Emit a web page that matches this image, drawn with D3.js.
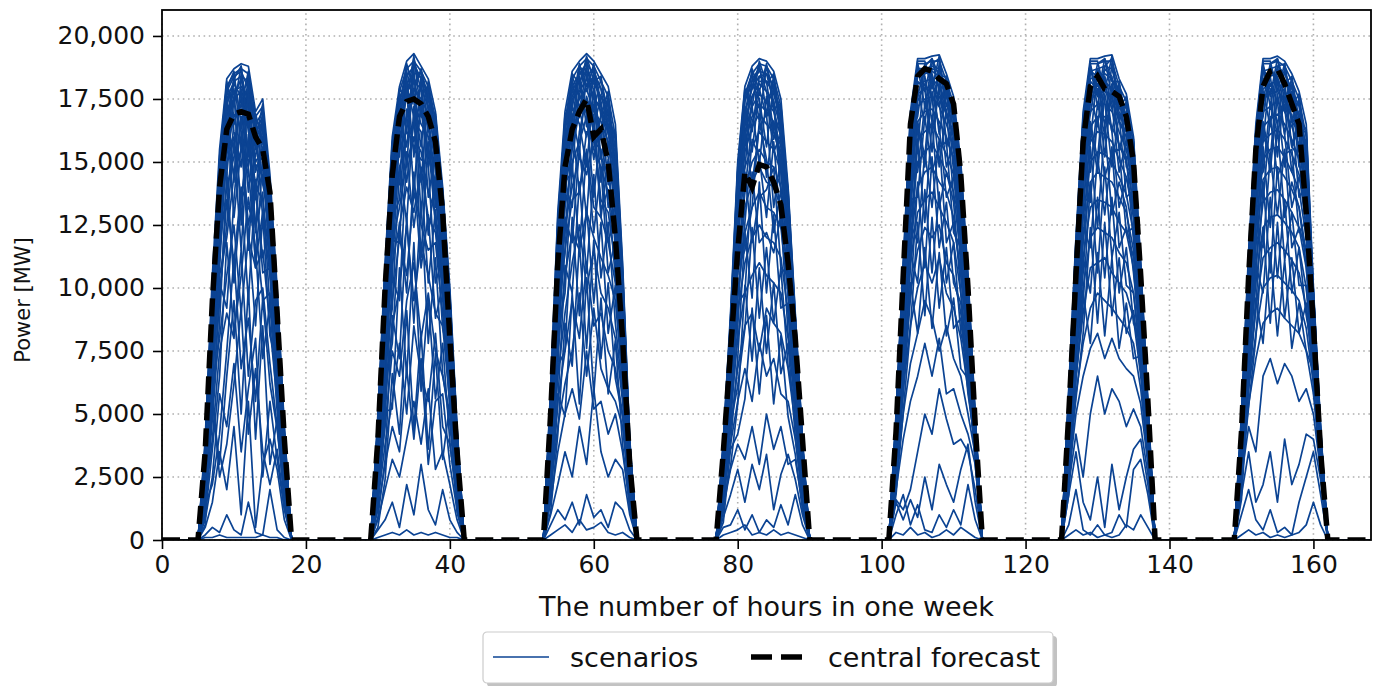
<!DOCTYPE html>
<html>
<head>
<meta charset="utf-8">
<script src="https://cdn.jsdelivr.net/npm/d3@7"></script>
<style>
  body { margin: 0; background: #fff; }
  text { font-family: "DejaVu Sans", sans-serif; fill: #111; }
</style>
</head>
<body>
<svg id="chart" width="1378" height="686"></svg>
<script>
// hour of the week where each day's solar output starts (value 0 there)
var dayStart = [5, 29, 53, 77, 101, 125, 149];

// central forecast, thousand MW, hourly from dayStart[d]
var centralDay1 = [0,3.5,9.5,14,16.3,16.9,17,16.9,16,15.5,13.8,9,4,0];
var centralDay2 = [0,4,10,14.5,16.8,17.4,17.5,17.3,16.8,15.8,13,8,3.5,0];
var centralDay3 = [0,5,11,14.8,16.3,17,17.5,16,16.3,15,12,8,3,0];
var centralDay4 = [0,3.5,7.5,11.5,14.6,14,14.9,14.8,14.2,13.3,11,8,4,0];
var centralDay5 = [0,4.3,10.5,16.5,18.4,18.7,18.6,18.3,18.1,17.3,14.5,10,4.6,0];
var centralDay6 = [0,5,10.5,15.8,18,18.4,17.9,17.8,17.6,16.8,15,10.5,5.5,0];
var centralDay7 = [0,4.3,10.5,15.5,18,18.6,18.7,18.1,17.3,16.5,13,8.5,3.5,0];

// scenarios, thousand MW; row k of each day belongs to scenario k
var scenDay1 = [
  [0,4,10.5,15.5,18.3,18.7,18.9,18.8,17,17.5,14.5,10,4.5,0],
  [0,3.8,10,15,18,18.5,18.7,18.5,16.8,17.2,14,9.5,4.2,0],
  [0,3.5,9.8,14.8,17.5,18.2,18.4,18.2,16.5,17,13.5,9,4,0],
  [0,3.6,9.5,14.5,17.8,18.4,18.6,17.9,16.2,16.8,13.8,9.2,4.1,0],
  [0,3.2,9,14,17,17.8,18,17.5,16,16.5,13.2,8.8,3.8,0],
  [0,3,8.8,13.5,16.5,17.5,17.8,17.2,15.5,16,12.8,8.5,3.6,0],
  [0,3.4,9.2,14.2,17.2,16.5,17.5,16.8,15,15.5,13,8.6,3.5,0],
  [0,2.8,8,12.5,15.5,16.8,17,16.5,14.8,15.2,12.5,8,3.3,0],
  [0,3,8.5,13,16,14.5,16.8,15.5,14.2,14.8,12,7.5,3,0],
  [0,2.5,7.5,12,15,16,13.5,15.8,13.8,14.5,11.5,7.8,3.2,0],
  [0,2.6,7,11.5,14,15.2,16,12.5,14,13.5,11,7,2.8,0],
  [0,2.2,6.5,10.5,12,14.5,15.5,14.8,11,13,10.5,6.5,2.5,0],
  [0,1.8,5.5,9.5,13.5,11,14,13.2,12.5,9.5,9.8,6,2.4,0],
  [0,2,6,8,10.5,12.5,9,12,10.8,11.5,8.5,5.5,2,0],
  [0,1.5,4,7.5,9,8,11.5,6.5,9.5,10,7,4.5,1.8,0],
  [0,1,5.5,3,6.5,9.5,5,10,4,8.5,3,4.8,1.5,0],
  [0,0.8,2.5,5.8,4.5,7,3.5,6,8,2.5,5.5,3.2,1.2,0],
  [0,0.5,1.5,3.5,2,4.5,1,5.5,0.5,3,4,2.8,0.8,0],
  [0,0.2,0.5,0.3,1,0.4,0.2,1.5,0.3,0.2,2,0.4,0.1,0],
  [0,0.1,0.1,0.2,0.1,0.1,0.1,0.1,0.1,0.2,0.1,0.1,0,0],
  [0,3.7,9.8,15.2,18.1,17.2,18.8,16.5,16.9,15.8,14.2,9.8,4.4,0],
  [0,3.3,9.2,13.8,17.9,18.6,15.5,18.5,15.8,17.3,12.5,9.6,4.3,0],
  [0,2.9,8.6,15.1,16.2,18.3,18.8,14.8,16.7,16.2,14.1,8.2,3.9,0],
  [0,3.5,10.2,12.8,18.2,16.8,17.2,18.6,13.5,17.1,13.6,9.3,4,0],
  [0,3.1,9.6,14.9,15.2,18.5,16.5,17.8,16.8,14.2,13.9,9.1,3.7,0],
  [0,2.7,7.8,13.2,17.6,14.2,18.5,16.2,15.2,16.9,11.8,8.9,3.6,0],
  [0,3.6,8.2,14.6,16.8,17.9,12.5,18.2,16.4,15.8,14.3,7.6,4.2,0],
  [0,2.4,9.4,11.5,17.3,18.1,17.6,13.8,16.6,16.4,12.2,9.4,3.4,0],
  [0,3.2,7.2,14.2,14.5,17.6,18.3,17.4,12.2,16.6,13.5,8.4,3.8,0],
  [0,2.1,8.9,12.2,16.4,15.5,17.9,15.2,16.3,12.8,13.7,9,3.2,0],
  [0,2.9,6.8,13.6,18,16.2,14.8,17.7,14.6,15.6,10.5,8.7,3.5,0],
  [0,1.8,7.5,10.8,15.8,17.4,16.2,11.5,15.9,14.1,12.8,6.8,3,0],
  [0,2.5,8.1,12.6,13.2,16.6,17.3,16.9,10.8,15.2,11.6,8.1,2.9,0],
  [0,1.6,6.2,11.2,16.9,12.8,15.6,14.5,13.8,11.2,12.4,7.2,2.7,0],
  [0,2.3,5.2,9.8,12.5,15.8,11.5,16.1,12.4,13.8,9.2,7.6,2.6,0],
  [0,1.2,4.8,8.6,14.6,10.2,13.8,9.5,14.2,10.6,10.8,5.6,2.3,0],
  [0,1.9,6.6,10.2,9.2,13.5,16.8,12.2,8.5,12.9,8.1,6.9,2.1,0],
  [0,0.9,3.6,6.5,11.8,8.2,10.5,13.6,11.6,7.2,9.4,5.1,1.9,0],
  [0,1.4,2.2,4.2,7.5,11.2,6.8,8.8,5.5,9.6,6.2,4.4,1.7,0],
  [0,0.6,5.8,2.5,3.8,6.2,9.2,4.2,6.8,3.5,2.2,3.6,1.3,0]
];
var scenDay2 = [
  [0,5,11,16,18,19,19.3,18.8,18.3,17,14,10,4.5,0],
  [0,4.8,10.6,15.6,17.8,18.7,19,18.6,18,16.7,13.6,9.6,4.3,0],
  [0,4.5,10.2,15.2,17.5,18.4,18.8,18.3,17.8,16.4,13.2,9.2,4,0],
  [0,4.6,10.4,15,17.2,18.1,18.5,18.5,17.5,16.2,13.4,9.4,4.1,0],
  [0,4.2,9.8,14.6,17,17.8,18.2,17.9,17.2,16,12.8,8.8,3.8,0],
  [0,4,9.5,14.2,16.6,17.5,17.9,17.5,16.9,15.6,12.5,8.5,3.6,0],
  [0,4.4,9.9,14.8,16.2,18,16.8,17.2,16.4,15.2,12.2,8.2,3.4,0],
  [0,3.8,9,13.5,16,16.8,17.5,16.5,16,14.8,12,8,3.5,0],
  [0,3.5,8.6,13,15.5,16.2,15.8,17,15.2,14.2,11.5,7.6,3.2,0],
  [0,3.6,8.2,12.4,14.8,15.8,16.5,14.5,15.5,13.6,11,7.2,3,0],
  [0,3.2,7.6,11.8,13.2,15,16,15.4,13.8,13,10.5,7,2.8,0],
  [0,3,7,11,12.5,14,13,14.8,12.8,12.2,10,6.6,2.6,0],
  [0,2.6,6.5,9.5,12,10.5,13.8,12.5,11.5,11.8,9,6,2.4,0],
  [0,2.2,5.5,8.5,10,12.5,9.5,11.8,10.5,9,8.5,5.4,2.2,0],
  [0,2,4.5,7.5,6.5,9.5,11,8,9.8,7.5,6.5,5,2,0],
  [0,1.5,3.8,5.5,7.8,5,8.5,6.5,5.5,8.2,4.5,3.8,1.6,0],
  [0,1.2,3,4.5,3.5,6.8,4,7.2,3,5.5,5.8,3,1.2,0],
  [0,0.8,2,3.2,2.5,4,5.5,3.8,6,2.8,3.5,2.2,0.8,0],
  [0,0.4,0.8,1.5,0.5,2.2,1,3,1.2,0.6,2,0.8,0.3,0],
  [0,0.1,0.2,0.3,0.2,0.4,0.2,0.3,0.2,0.3,0.2,0.1,0.1,0],
  [0,4.7,10.8,15.8,17.2,18.9,17.8,18.7,17.5,16.8,13.8,9.8,4.4,0],
  [0,4.3,10.1,14.4,17.9,17.5,19.2,16.9,18.2,15.5,13.9,9.1,4.2,0],
  [0,3.9,9.3,15.7,16.4,18.8,18.1,18.6,16.2,16.9,12.4,9.7,3.9,0],
  [0,4.6,10.7,13.2,17.7,16.2,19.1,17.8,17.9,14.6,13.7,8.6,4.3,0],
  [0,3.4,8.8,15.4,15.2,18.6,17.4,15.6,18.1,16.6,11.8,9.5,3.7,0],
  [0,4.1,9.9,14.9,17.6,14.8,18.9,18.3,14.8,16.3,13.5,8.1,4,0],
  [0,3.7,7.6,13.8,16.9,18.4,15.2,18.4,17.2,13.2,13.1,9.2,3.6,0],
  [0,2.9,9.6,12.1,17.4,17.7,18.7,14.2,17.7,15.9,10.8,8.9,3.3,0],
  [0,3.3,8.4,14.7,14.1,18.2,17.6,17.9,13.6,15.4,12.9,7.4,3.5,0],
  [0,2.6,7.1,11.6,16.7,15.6,18.4,16.8,16.6,12.4,12.6,8.4,3.1,0],
  [0,3.6,9.2,13.5,15.8,17.9,13.8,17.5,15.4,14.9,9.8,7.9,3.4,0],
  [0,2.3,6.4,12.8,13.5,16.9,17.8,12.9,16.8,13.8,11.9,6.5,2.9,0],
  [0,3,8,10.5,16.2,14.2,16.6,16.2,12.1,14.4,10.6,7.5,2.7,0],
  [0,1.9,5.6,11.9,11.8,17.1,15.5,15.1,14.9,10.2,11.2,6.8,2.5,0],
  [0,2.7,7.4,9.2,14.8,12.6,17.2,11.2,15.8,12.6,8.4,7.1,2.3,0],
  [0,1.4,4.8,10.4,9.5,15.4,12.4,14.6,10.2,13.1,9.6,5.2,2.1,0],
  [0,2.1,6.2,7.8,12.6,9.8,14.6,10.8,12.9,8.8,10.1,6.3,1.9,0],
  [0,0.9,3.2,8.9,7.2,12.8,8.6,13.4,7.8,11.2,6.6,4.6,1.6,0],
  [0,1.6,5.1,5.2,10.8,6.5,11.8,5.9,9.6,5.6,7.8,3.9,1.4,0],
  [0,0.5,2.4,6.6,4.2,9.1,4.4,8.2,3.6,7.4,3.2,5.4,1.1,0]
];
var scenDay3 = [
  [0,6,13,17,18.6,19,19.3,19,18.5,18,16.5,11,4,0],
  [0,5.7,12.6,16.6,18.3,18.8,19.1,18.8,18.2,17.6,16,10.6,3.8,0],
  [0,5.5,12.2,16.2,18,18.5,18.9,18.5,17.9,17.2,15.5,10.2,3.6,0],
  [0,5.3,11.8,15.8,17.6,18.2,18.6,18.1,17.6,16.8,15,9.8,3.5,0],
  [0,5.6,12,16,17.2,18.6,18,18.4,17.2,16.5,14.6,9.5,3.4,0],
  [0,5,11.4,15.4,17.5,17.8,18.3,17.6,17,16.2,14.2,9.2,3.3,0],
  [0,4.8,11,15,16.8,17.5,17.9,17,16.6,15.8,13.8,8.8,3.1,0],
  [0,4.5,10.5,14.5,16.2,16.8,17.4,16.2,16,15.2,13.2,8.5,3,0],
  [0,4.6,10,14,15.5,17,16,17.2,15.2,14.5,12.5,8,2.8,0],
  [0,4.2,9.5,13.2,15,15.8,16.8,15.5,14.8,13.8,12,7.6,2.7,0],
  [0,4,9,12.5,14,15.2,14.5,16,13.5,13,11,7.2,2.5,0],
  [0,3.6,8.4,11.5,13.5,13.8,15.5,13.2,12.8,11.8,10.2,6.8,2.4,0],
  [0,3.2,7.5,10.5,12.2,11.5,13,12,11.2,10.5,9.5,6.2,2.2,0],
  [0,2.8,6.5,9,11,12.5,10,11.5,9.8,9.2,8,5.5,2,0],
  [0,2.4,5.5,7.5,9.5,8,11,8.5,9,7.5,6.8,5,1.8,0],
  [0,2,4.5,6.2,7.5,9.8,6.5,9.2,6.8,6,5.5,4.5,1.6,0],
  [0,1.5,3.5,5,6,4.8,7.5,5.2,5.5,4.2,5,3.5,1.4,0],
  [0,1,2.2,3.5,2.5,4.5,3,6,3.5,2.5,3.2,2.8,1,0],
  [0,0.6,1.2,0.8,1.5,0.6,1.8,0.9,1.2,0.5,1.5,1.2,0.4,0],
  [0,0.2,0.4,0.6,0.3,0.8,0.4,0.5,0.7,0.3,0.2,0.3,0.1,0],
  [0,5.8,12.8,16.5,18.4,17.6,19.2,18.2,18.4,16.4,16.2,10.8,3.9,0],
  [0,5.2,11.9,16.9,17.2,18.9,17.8,18.9,16.8,17.8,14.8,10.4,3.7,0],
  [0,4.9,12.4,15.2,18.5,18.1,19.1,17.1,18.3,16.9,15.9,9.6,3.8,0],
  [0,5.5,10.8,16.7,16.5,18.8,18.4,18.7,17.4,15.6,16.1,10.1,3.5,0],
  [0,4.4,12.1,14.6,18.2,16.8,18.9,17.8,15.9,17.6,13.9,10.6,3.6,0],
  [0,5.1,11.2,16.3,17.8,18.4,16.4,18.6,17.9,16.1,15.4,9.1,3.4,0],
  [0,3.9,10.1,15.8,15.8,18.7,18.7,16.4,17.6,17.2,14.4,9.9,3.2,0],
  [0,4.7,11.6,13.9,17.9,17.2,18.1,18.3,15.1,16.8,15.6,8.6,3.3,0],
  [0,3.6,9.8,15.5,16.9,15.4,18.5,17.5,17.2,14.1,14.9,9.4,3,0],
  [0,4.3,10.9,14.2,14.6,18.1,17.2,15.1,16.9,16.4,12.8,8.9,3.1,0],
  [0,3.2,8.6,13.4,17.2,16.5,14.8,17.9,14.2,15.8,13.6,7.8,2.9,0],
  [0,4,10.2,12.2,15.6,17.7,16.9,13.6,16.4,13.2,14.2,8.2,2.8,0],
  [0,2.8,7.9,14.1,13.2,16.2,17.6,16.6,12.8,15.1,11.6,7.4,2.6,0],
  [0,3.4,9.1,11.4,16.4,13.8,16.2,15.8,15.5,11.8,12.9,8,2.5,0],
  [0,2.2,6.8,12.8,11.8,15.6,12.8,16.9,13.1,13.9,10.4,6.6,2.3,0],
  [0,2.9,8.2,9.8,14.9,11.6,15.4,12.2,14.8,10.6,11.9,7.1,2.2,0],
  [0,1.6,5.4,10.9,9.8,14.2,10.6,14.5,10.4,12.6,8.6,5.8,1.9,0],
  [0,2.4,6.9,7.5,12.8,8.9,13.2,9.4,12.6,8.2,10.1,6.2,1.7,0],
  [0,1.1,4.2,8.6,6.9,11.8,7.6,11.9,7.2,10.2,6.4,4.9,1.5,0],
  [0,1.8,5.8,4.9,9.8,5.4,10.4,5.8,9.6,5.8,7.9,3.8,1.2,0]
];
var scenDay4 = [
  [0,4,9,15,18,18.8,19.1,19,18.6,17.5,14,9,4,0],
  [0,3.8,8.7,14.6,17.7,18.5,18.9,18.8,18.3,17.2,13.7,8.8,3.9,0],
  [0,3.7,8.5,14.2,17.4,18.2,18.6,18.5,18,16.9,13.4,8.6,3.8,0],
  [0,3.6,8.3,13.8,17,17.9,18.4,18.2,17.7,16.6,13.1,8.4,3.7,0],
  [0,3.5,8.1,13.5,16.6,17.6,18.1,17.8,17.4,16.3,12.8,8.2,3.6,0],
  [0,3.4,7.9,13.2,16.2,17.2,17.7,17.4,17,16,12.5,8,3.5,0],
  [0,3.3,7.6,12.8,15.8,16.8,17.3,17,16.6,15.6,12.2,7.8,3.4,0],
  [0,3.2,7.4,12.4,15.4,16.4,16.9,16.5,16.2,15.2,11.9,7.6,3.3,0],
  [0,3,7,11.8,14.8,15.6,16.2,15.8,15.5,14.6,11.5,7.3,3.2,0],
  [0,2.9,6.8,11.2,14,15,15.5,15,14.8,14,11,7,3,0],
  [0,2.7,6.4,10.5,13.2,14.2,14.8,14.2,14,13.2,10.4,6.7,2.9,0],
  [0,2.5,6,9.8,12.2,13.2,13.8,13.2,13,12.4,9.8,6.3,2.7,0],
  [0,2.3,5.5,9,11,12,12.5,12,11.8,11.2,9,5.8,2.5,0],
  [0,2,5,8,9.8,10.5,11,10.5,10.2,9.8,8,5.2,2.2,0],
  [0,1.8,4.4,6.8,8.5,9,7.5,9.2,8.6,8.2,6.8,4.6,2,0],
  [0,1.6,3.8,5.5,6.8,5.5,7.8,6.5,7.2,5.8,5.5,4,1.8,0],
  [0,1.3,2.8,3.8,3.2,4.5,3,5,3.6,4.5,3,3.2,1.4,0],
  [0,0.9,1.8,2.8,1.5,3,2,3.4,1.2,2.6,3.4,2.4,1,0],
  [0,0.5,0.6,1.2,0.4,1,0.3,0.8,0.5,1.4,0.6,1.8,0.6,0],
  [0,0.2,0.3,0.4,0.6,0.2,0.3,0.2,0.4,0.2,0.3,0.2,0.1,0],
  [0,3.9,8.8,14.8,17.9,17.2,19,18.1,18.5,16.4,13.9,8.9,3.9,0],
  [0,3.5,8.4,13.9,16.8,18.7,17.8,18.9,17.1,17.3,12.9,8.7,3.8,0],
  [0,3.7,7.8,14.6,17.7,17.9,18.9,16.9,18.4,15.8,13.8,8.1,3.7,0],
  [0,3.1,8.6,12.8,17.5,18.5,16.6,18.8,17.8,17.1,12.2,8.5,3.5,0],
  [0,3.6,7.2,14.4,15.8,18.3,18.7,17.8,15.9,16.9,13.6,7.6,3.6,0],
  [0,2.8,8.2,13.4,17.2,16.2,18.4,18.5,17.4,14.8,13.2,8.3,3.3,0],
  [0,3.3,6.9,12.2,16.4,18.1,17.5,15.6,18.1,16.5,11.5,7.9,3.4,0],
  [0,2.6,7.7,13.9,14.8,17.6,18.2,18.2,16.2,15.4,12.9,7.2,3.1,0],
  [0,3,6.4,11.6,17,15.4,17.9,16.8,17.3,13.8,12.6,7.7,3,0],
  [0,2.4,7.3,12.9,15.6,17.2,14.9,17.6,15.4,16.1,10.8,6.9,2.8,0],
  [0,2.8,5.9,10.8,13.8,16.6,17.3,14.4,16.6,14.6,12.1,7.4,2.9,0],
  [0,2.1,6.8,11.9,16.2,14.1,16.4,16.9,13.2,15.2,11.2,6.5,2.6,0],
  [0,2.5,5.2,9.6,12.6,15.9,15.2,12.8,15.8,12.4,11.7,7,2.7,0],
  [0,1.8,6.2,10.8,11.5,13.2,16.6,15.1,12.2,13.9,9.6,6.1,2.4,0],
  [0,2.2,4.6,8.4,14.6,11.8,13.6,13.9,14.8,10.8,10.5,5.6,2.3,0],
  [0,1.5,5.5,9.4,9.8,14.6,11.8,12.2,11.4,12.9,8.2,5.9,2.1,0],
  [0,1.9,3.8,7.2,12.2,9.6,14.2,9.8,12.9,9.2,9.4,4.8,1.9,0],
  [0,1.1,4.6,6.1,8.4,12.4,8.8,11.6,8.6,10.8,6.9,5.2,1.7,0],
  [0,1.4,2.9,5.4,10.1,7.1,10.8,7.4,10.2,6.6,7.8,4.1,1.5,0],
  [0,0.7,3.6,4.2,5.6,9.2,5.8,8.9,5.4,8.1,4.9,3.4,1.2,0]
];
var scenDay5 = [
  [0,5,11,17,19.1,19.1,19.2,19.25,18.5,17.6,15,10.5,5,0],
  [0,4.8,10.7,16.6,18.9,18.9,19,19,18.2,17.3,14.7,10.2,4.8,0],
  [0,4.7,10.5,16.2,18.7,18.7,18.8,18.7,17.9,17,14.4,10,4.7,0],
  [0,4.6,10.3,15.8,18.4,18.5,18.6,18.4,17.6,16.7,14,9.7,4.6,0],
  [0,4.5,10,15.4,18.1,18.2,18.3,18,17.3,16.4,13.6,9.4,4.4,0],
  [0,4.4,9.8,15,17.7,17.9,18,17.6,16.9,16,13.2,9.1,4.3,0],
  [0,4.3,9.5,14.5,17.2,17.5,17.6,17.2,16.5,15.6,12.8,8.8,4.1,0],
  [0,4.1,9.2,14,16.6,17,17.1,16.6,16,15.1,12.3,8.5,4,0],
  [0,4,8.8,13.4,15.9,16.2,16.5,15.9,15.3,14.5,11.8,8.2,3.8,0],
  [0,3.8,8.4,12.6,15,15.4,15.7,15.2,14.6,13.8,11.2,7.8,3.7,0],
  [0,3.6,8,11.8,14,14.6,14.8,14.2,13.8,12.8,10.5,7.4,3.5,0],
  [0,3.4,7.5,11,13,13.5,13.8,13.2,12.6,11.8,9.8,7,4,0],
  [0,3.1,6.8,9.8,11.5,12.4,12,12.5,11,10.5,9,6.5,3.8,0],
  [0,2.8,6,8.5,10,11,10.2,11.2,9.8,9.2,8,6,3.6,0],
  [0,2.4,5,7,8.2,9.5,8.8,7.5,8.5,7.2,6.5,5,3.4,0],
  [0,2,4,5.5,6.5,7.8,6.5,8,5.8,6,5,4.2,3,0],
  [0,1.6,1.2,2,3.5,5,4.2,6,4.8,3.8,4,3.5,2,0],
  [0,1.5,0.8,1.6,0.9,2.5,1.2,3,2.2,1.5,2.8,3.8,1.5,0],
  [0,1,1.8,0.6,1.4,0.4,0.3,1,0.5,1.2,0.6,2.2,0.8,0],
  [0,0.3,0.2,0.5,0.2,0.3,0.1,0.2,0.4,0.2,0.5,0.3,0.1,0],
  [0,4.9,10.9,16.8,18.9,17.8,19.1,18.4,18.4,16.6,14.9,10.4,4.9,0],
  [0,4.6,10.4,15.9,19,19,17.9,19.2,17.2,17.5,13.8,10.3,4.8,0],
  [0,4.4,9.8,16.7,17.6,18.8,19.1,17.8,18.3,16.2,14.8,9.6,4.7,0],
  [0,4.8,10.8,14.8,18.8,17.2,18.9,19.1,16.8,17.3,13.2,10.2,4.5,0],
  [0,4.1,9.2,16.2,16.8,18.9,18.2,17.2,18.2,15.4,14.5,9.2,4.6,0],
  [0,4.5,10.6,15.6,18.5,18.4,16.6,18.9,17.6,16.9,12.6,9.9,4.2,0],
  [0,3.8,8.7,14.2,17.9,16.5,18.7,18.6,15.6,16.4,14.2,8.7,4.4,0],
  [0,4.2,10.1,16.4,15.6,18.6,18.4,16.1,17.9,14.6,13.4,9.5,4.1,0],
  [0,3.5,8.1,13.6,18.2,17.9,15.4,18.2,16.8,16.2,11.8,8.4,4,0],
  [0,4,9.5,15.1,16.6,15.2,18.5,17.4,14.8,15.8,13.8,9,3.8,0],
  [0,3.2,7.6,12.8,17.4,18.1,17.6,14.8,17.1,13.6,12.9,7.8,3.9,0],
  [0,3.7,8.9,14.4,14.6,17.3,16.2,17.9,15.9,15.2,10.8,8.6,3.6,0],
  [0,2.9,7.1,11.6,16.4,14.8,17.8,16.4,13.6,14.4,12.2,7.4,3.7,0],
  [0,3.4,8.4,13.5,13.6,16.8,14.6,15.6,15.8,12.2,11.6,8.1,3.4,0],
  [0,2.6,6.4,10.8,15.8,12.6,16.6,13.2,14.6,13.4,9.8,6.9,3.5,0],
  [0,3.1,7.8,12.6,11.8,15.4,13.2,15.9,11.8,12.6,10.6,7.6,3.2,0],
  [0,2.2,5.8,9.6,14.2,10.8,15.2,11.6,13.4,10.2,9.4,6.4,3.3,0],
  [0,2.7,6.9,11.4,10.2,13.9,10.6,13.8,10.2,11.8,8.2,7.1,3,0],
  [0,1.8,5.1,8.4,12.6,8.9,12.8,9.2,11.6,8.4,8.8,5.8,3.8,0],
  [0,2.3,6.2,10.2,8.2,11.6,8.4,11.4,8.1,9.6,6.8,6.4,3.5,0]
];
var scenDay6 = [
  [0,6,12,17,19.1,19.1,19.2,19.25,18.3,17.7,16,11,5.5,0],
  [0,5.8,11.7,16.6,18.9,18.9,19,19,18,17.4,15.7,10.7,5.3,0],
  [0,5.6,11.4,16.2,18.6,18.7,18.8,18.7,17.7,17.1,15.3,10.4,5.1,0],
  [0,5.4,11.1,15.8,18.3,18.4,18.5,18.3,17.4,16.8,15,10.1,5,0],
  [0,5.2,10.8,15.4,17.9,18.1,18.2,17.9,17,16.4,14.6,9.8,4.8,0],
  [0,5.1,10.5,15,17.5,17.7,17.8,17.5,16.6,16,14.2,9.5,4.7,0],
  [0,4.9,10.2,14.5,17,17.3,17.3,17,16.2,15.5,13.8,9.2,4.5,0],
  [0,4.7,9.8,14,16.4,16.8,16.8,16.4,15.7,15,13.3,8.8,4.3,0],
  [0,4.5,9.4,13.4,15.8,16.2,16.1,15.8,15.1,14.4,12.8,8.5,4.2,0],
  [0,4.3,9,12.8,15,15.4,15.3,15,14.4,13.7,12.2,8.2,4,0],
  [0,4.1,8.5,12,14.2,14.6,14.4,14.2,13.6,13,11.5,7.8,3.9,0],
  [0,3.8,8,11.2,13.2,13.5,13.4,13.2,12.6,12.2,10.8,7.4,3.8,0],
  [0,3.5,7.2,10,12,12.4,12.2,12,11.4,11,9.8,7,3.6,0],
  [0,3.2,6.5,9,10.8,11,11.2,10.6,10.2,9.8,8.8,6.5,3.4,0],
  [0,2.8,5.8,7.8,9.2,9.8,9.5,9.2,8.8,8.4,7.8,6,3.2,0],
  [0,2.5,5,6.5,7.6,8.2,7.2,8,7.2,6.8,6.5,5.4,3,0],
  [0,2.2,4.2,2.5,5,6.5,5,6,5.5,4.5,5.2,4.5,2.6,0],
  [0,1.8,3.5,1.5,0.8,2.5,0.5,3,1.2,2.5,3.6,4,2.2,0],
  [0,0.6,2,0.4,0.2,0.6,0.2,0.3,1,0.5,2.8,3.2,1.8,0],
  [0,0.2,0.4,0.2,0.3,0.1,0.2,0.1,0.2,0.6,0.4,1,0.5,0],
  [0,5.9,11.8,16.8,18.9,17.6,19.1,18.2,18.2,16.6,15.9,10.9,5.4,0],
  [0,5.5,11.2,15.9,19,19,17.8,19.2,17.1,17.6,14.8,10.8,5.3,0],
  [0,5.7,10.6,16.7,17.4,18.9,19.1,17.6,18.1,16.2,15.8,10.1,5.2,0],
  [0,5,11.6,14.8,18.8,17.2,18.8,19.1,16.6,17.4,14.2,10.6,5.1,0],
  [0,5.3,10.1,16.3,16.9,18.7,18.1,17.1,18,15.4,15.6,9.7,5,0],
  [0,4.6,11.4,15.6,18.6,18.4,16.4,18.9,17.4,16.9,13.6,10.4,4.9,0],
  [0,5.2,9.6,14.6,17.8,16.4,18.7,18.4,15.5,16.5,15.2,9.4,4.8,0],
  [0,4.2,10.8,16.2,15.8,18.6,18.3,16.2,17.8,14.8,14.5,10.1,4.6,0],
  [0,4.9,9.1,13.8,18.2,17.9,15.2,18.1,16.6,16.2,12.8,9.1,4.7,0],
  [0,3.8,10.2,15.3,16.6,15.1,18.4,17.3,14.6,15.8,14.8,9.8,4.5,0],
  [0,4.5,8.4,12.9,17.4,18.1,17.4,14.8,16.9,13.6,13.9,8.6,4.4,0],
  [0,3.4,9.6,14.6,14.6,17.3,16.1,17.8,15.6,15.2,11.9,9.3,4.3,0],
  [0,4.1,7.8,11.8,16.4,14.6,17.7,16.2,13.2,14.4,13.1,8.2,4.2,0],
  [0,3,8.8,13.6,13.4,16.8,14.4,15.4,15.5,12.2,12.4,8.9,4.1,0],
  [0,3.7,7.1,10.6,15.6,12.4,16.4,12.9,14.2,13.2,10.6,7.8,4,0],
  [0,2.6,8.1,12.4,11.6,15.2,12.9,15.6,11.6,12.4,11.2,8.4,3.9,0],
  [0,3.3,6.4,9.4,14.2,10.6,14.8,11.2,13,10.1,9.8,7.4,3.8,0],
  [0,2.2,7.2,11.2,9.8,13.6,10.4,13.6,9.8,11.6,8.6,8,3.7,0],
  [0,2.9,5.6,8.2,12.4,8.6,12.6,8.9,11.2,8.2,9.1,6.9,3.6,0],
  [0,1.8,6.4,9.8,7.8,11.4,8.1,11.2,7.6,9.4,7.2,7.3,3.5,0]
];
var scenDay7 = [
  [0,5,11.5,16.5,19.1,19.1,19.2,19,18.5,17.8,16.5,10,4.5,0],
  [0,4.8,11.2,16.1,18.9,18.9,19,18.8,18.2,17.5,16,9.8,4.4,0],
  [0,4.7,10.9,15.8,18.6,18.7,18.8,18.5,17.9,17.2,15.5,9.6,4.3,0],
  [0,4.6,10.6,15.4,18.3,18.4,18.5,18.2,17.6,16.9,15,9.4,4.2,0],
  [0,4.5,10.3,15,17.9,18.1,18.2,17.8,17.2,16.5,14.5,9.2,4.1,0],
  [0,4.4,10,14.6,17.5,17.7,17.8,17.4,16.8,16.1,14,9,4,0],
  [0,4.3,9.7,14.1,17,17.2,17.4,17,16.4,15.6,13.5,8.8,3.9,0],
  [0,4.2,9.4,13.6,16.4,16.7,16.9,16.5,15.9,15.1,13,8.6,3.8,0],
  [0,4.1,9,13,15.8,16.1,16.3,15.9,15.3,14.5,12.5,8.3,3.7,0],
  [0,4,8.6,12.4,15.1,15.5,15.6,15.2,14.6,13.9,12,8,3.6,0],
  [0,3.8,8.2,11.8,14.3,14.7,14.8,14.4,13.9,13.2,11.4,7.7,3.5,0],
  [0,3.6,7.7,11,13.4,13.8,13.9,13.5,13,12.4,10.8,7.4,3.4,0],
  [0,3.4,7.2,10.2,12.4,12.8,12.9,12.6,12.2,11.6,10,7,3.3,0],
  [0,3.2,6.6,9.2,11.2,11.6,11.8,11.5,11.1,10.6,9.2,6.6,3.1,0],
  [0,3,6,8.2,10,10.4,10.5,10.2,9.9,9.5,8.4,6.2,3,0],
  [0,2.8,5.4,7.2,8.6,9,9.2,8.8,8.5,8.2,7.5,5.8,2.9,0],
  [0,2.5,4.5,3.5,6.5,7.2,6.2,7,6.5,5.5,6,5,2.7,0],
  [0,1.8,3.5,1.5,2.2,3.5,1.5,4,2.2,3,4.2,4,2.4,0],
  [0,1,2,0.8,0.4,1.2,0.3,0.5,0.2,1.5,2.5,3.5,1.8,0],
  [0,0.2,0.4,0.2,0.3,0.1,0.2,0.1,0.2,0.3,0.6,1.5,0.6,0],
  [0,4.9,11.3,16.3,18.9,17.6,19.1,18.1,18.4,16.6,16.3,9.9,4.4,0],
  [0,4.5,10.8,15.4,19,19,17.8,18.9,17.2,17.7,15.2,9.8,4.3,0],
  [0,4.7,10.2,16.2,17.4,18.9,19.1,17.4,18.3,16.2,16.2,9.3,4.2,0],
  [0,4.1,11.2,14.6,18.8,17.2,18.8,18.9,16.6,17.5,14.6,9.7,4.1,0],
  [0,4.4,9.6,15.9,16.8,18.8,18.1,17,18.1,15.4,15.9,8.9,4,0],
  [0,3.8,10.9,15.2,18.6,18.4,16.4,18.7,17.4,16.9,13.8,9.5,3.9,0],
  [0,4.3,9.1,14.2,17.8,16.4,18.7,18.2,15.6,16.5,15.6,8.6,3.8,0],
  [0,3.5,10.4,15.8,15.8,18.6,18.3,16.1,17.8,14.8,14.8,9.2,3.7,0],
  [0,4,8.6,13.4,18.2,17.9,15.2,17.9,16.6,16.2,13.2,8.3,3.6,0],
  [0,3.2,9.8,14.9,16.6,15.1,18.4,17.2,14.6,15.8,15.1,8.9,3.5,0],
  [0,3.7,8,12.6,17.4,18.1,17.4,14.8,16.9,13.6,14.1,7.9,3.4,0],
  [0,2.9,9.1,14.2,14.6,17.3,16.1,17.6,15.6,15.2,12.2,8.5,3.3,0],
  [0,3.4,7.4,11.6,16.4,14.6,17.7,16.1,13.2,14.4,13.4,7.5,3.2,0],
  [0,2.6,8.4,13.2,13.4,16.8,14.4,15.3,15.5,12.2,12.7,8.1,3.1,0],
  [0,3.1,6.8,10.4,15.6,12.4,16.4,12.8,14.2,13.2,10.9,7.1,3,0],
  [0,2.3,7.7,12.1,11.6,15.2,12.9,15.5,11.6,12.4,11.5,7.7,2.9,0],
  [0,2.8,6.1,9.2,14.2,10.6,14.8,11.1,13,10.1,10.1,6.7,2.8,0],
  [0,2,6.9,10.9,9.8,13.6,10.4,13.5,9.8,11.6,8.9,7.3,2.7,0],
  [0,2.5,5.3,8,12.4,8.6,12.6,8.8,11.2,8.2,9.4,6.2,2.6,0],
  [0,1.6,6.1,9.6,7.8,11.4,8.1,11.1,7.6,9.4,7.5,6.7,2.5,0]
];

var xTicks = [0, 20, 40, 60, 80, 100, 120, 140, 160];
var yTicks = [0, 2500, 5000, 7500, 10000, 12500, 15000, 17500, 20000];
var legendLabels = ["scenarios", "central forecast"];

var hoursInWeek = 168;
var centralDays = [centralDay1, centralDay2, centralDay3, centralDay4, centralDay5, centralDay6, centralDay7];
var scenDays = [scenDay1, scenDay2, scenDay3, scenDay4, scenDay5, scenDay6, scenDay7];

// spread per-day values (thousand MW) over the week, night hours stay 0
function buildWeek(dayRows) {
    var week = [];
    for (var h = 0; h <= hoursInWeek; h++) week.push({hour: h, value: 0});
    dayRows.forEach(function(row, d) {
        row.forEach(function(v, j) {
            week[dayStart[d] + j].value = v * 1000;
        });
    });
    return week;
}

var central = buildWeek(centralDays);
var scenarios = scenDay1.map(function(_, k) {
    return buildWeek(scenDays.map(function(day) { return day[k]; }));
});

var svg = d3.select("#chart");
var margin = {left: 162, right: 7, top: 10, bottom: 146};
var W = +svg.attr("width"), H = +svg.attr("height");

var x = d3.scaleLinear().domain([0, hoursInWeek]).range([margin.left, W - margin.right]);
var y = d3.scaleLinear().domain([0, 21030]).range([H - margin.bottom, margin.top]);

// grid
var grid = svg.append("g").attr("class", "grid")
    .attr("stroke", "#b0b0b0").attr("stroke-width", 1.6).attr("stroke-dasharray", "1.6 3.6");
grid.selectAll("line.gx").data(xTicks).enter().append("line")
    .attr("x1", function(d) { return x(d); }).attr("x2", function(d) { return x(d); })
    .attr("y1", y.range()[0]).attr("y2", y.range()[1]);
grid.selectAll("line.gy").data(yTicks).enter().append("line")
    .attr("y1", function(d) { return y(d); }).attr("y2", function(d) { return y(d); })
    .attr("x1", x.range()[0]).attr("x2", x.range()[1]);

// lines
var line = d3.line()
    .x(function(d) { return x(d.hour); })
    .y(function(d) { return y(d.value); });

svg.append("defs").append("clipPath").attr("id", "plot-clip")
  .append("rect")
    .attr("x", x.range()[0]).attr("y", y.range()[1])
    .attr("width", x.range()[1] - x.range()[0])
    .attr("height", y.range()[0] - y.range()[1]);

var plot = svg.append("g").attr("clip-path", "url(#plot-clip)");
plot.selectAll("path.scenario").data(scenarios).enter().append("path")
    .attr("class", "scenario")
    .attr("d", line)
    .attr("fill", "none")
    .attr("stroke", "#0b4393")
    .attr("stroke-width", 1.7)
    .attr("stroke-linejoin", "round");

plot.append("path")
    .datum(central)
    .attr("d", line)
    .attr("fill", "none")
    .attr("stroke", "#000")
    .attr("stroke-width", 5.5)
    .attr("stroke-dasharray", "18 8");

// axes
var xAxis = d3.axisBottom(x).tickValues(xTicks).tickSize(9).tickPadding(6).tickFormat(d3.format("d"));
var yAxis = d3.axisLeft(y).tickValues(yTicks).tickSize(9).tickPadding(8).tickFormat(d3.format(","));

var gx = svg.append("g").attr("transform", "translate(0," + y.range()[0] + ")").call(xAxis);
var gy = svg.append("g").attr("transform", "translate(" + x.range()[0] + ",0)").call(yAxis);
[gx, gy].forEach(function(g) {
    g.select(".domain").remove();
    g.selectAll(".tick line").attr("stroke", "#000").attr("stroke-width", 1.6);
    g.selectAll(".tick text").attr("font-size", 25).attr("fill", "#111")
        .attr("font-family", "DejaVu Sans");
});

// frame
svg.append("rect")
    .attr("x", x.range()[0]).attr("y", y.range()[1])
    .attr("width", x.range()[1] - x.range()[0])
    .attr("height", y.range()[0] - y.range()[1])
    .attr("fill", "none").attr("stroke", "#000").attr("stroke-width", 1.8);

// axis labels
svg.append("text")
    .attr("x", (x.range()[0] + x.range()[1]) / 2).attr("y", 616)
    .attr("text-anchor", "middle").attr("font-size", 27)
    .text("The number of hours in one week");
svg.append("text")
    .attr("transform", "translate(30,300) rotate(-90)")
    .attr("text-anchor", "middle").attr("font-size", 21)
    .text("Power [MW]");

// legend
var lg = svg.append("g").attr("transform", "translate(483,632)");
lg.append("rect").attr("x", 4).attr("y", 4).attr("width", 570).attr("height", 51)
    .attr("rx", 4).attr("fill", "#999").attr("opacity", 0.6);
lg.append("rect").attr("width", 570).attr("height", 51).attr("rx", 4)
    .attr("fill", "#fff").attr("stroke", "#ccc").attr("stroke-width", 1.2);
lg.append("line").attr("x1", 10).attr("x2", 66).attr("y1", 25).attr("y2", 25)
    .attr("stroke", "#0b4393").attr("stroke-width", 1.6);
lg.append("line").attr("x1", 268).attr("x2", 324).attr("y1", 25).attr("y2", 25)
    .attr("stroke", "#000").attr("stroke-width", 5.5).attr("stroke-dasharray", "21 9");
lg.selectAll("text.lab").data(legendLabels).enter().append("text")
    .attr("x", function(d, i) { return i === 0 ? 87 : 345; })
    .attr("y", 35).attr("font-size", 27)
    .text(function(d) { return d; });
</script>
</body>
</html>
